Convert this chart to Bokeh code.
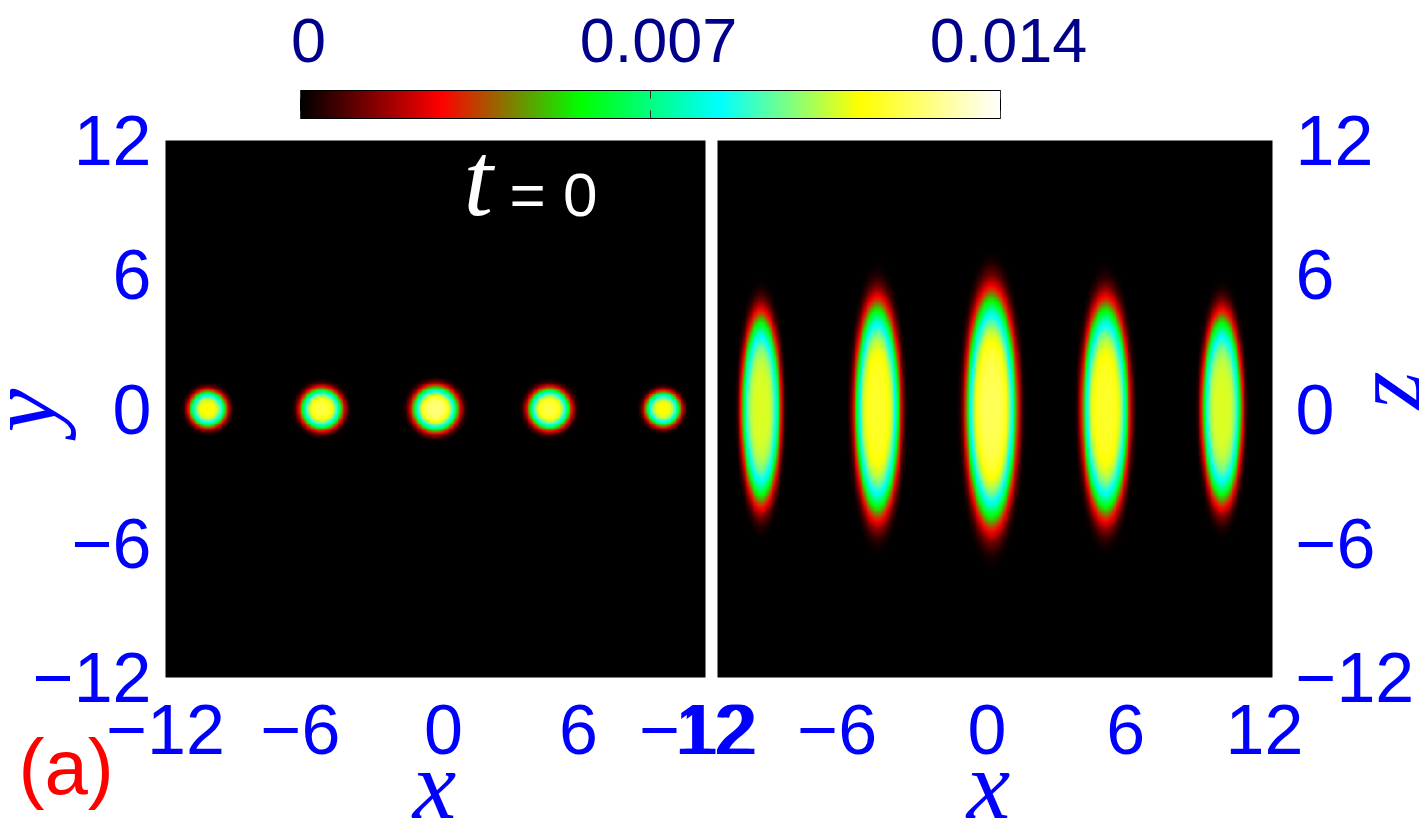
import numpy as np
from bokeh.plotting import figure
from bokeh.models import Range1d, LinearColorMapper, FixedTicker, LinearAxis, Label
from bokeh.embed import file_html
from bokeh.resources import INLINE

# ---------------- data ----------------
xy_blob_x = [-10.15, -5.08, 0.0, 5.08, 10.15]        # droplet centres, x-y plane
xy_peak = [0.0113, 0.0119, 0.0125, 0.0119, 0.0112]   # peak density, x-y plane
xy_wx = [0.82, 0.92, 1.00, 0.92, 0.78]
xy_wy = [0.82, 0.92, 1.00, 0.92, 0.78]
XY_Q = 2.0
xz_blob_x = [-10.15, -5.1, -0.15, 4.8, 9.85]         # droplet centres, x-z plane
xz_peak = [0.0108, 0.0116, 0.0121, 0.0116, 0.0108]   # peak density, x-z plane
xz_wx = [0.83, 0.96, 1.08, 0.99, 0.85]
xz_wz = [4.2, 4.7, 5.1, 4.7, 4.2]
XZ_Q = 2.5

cbar_ticks = [0.0, 0.007, 0.014]
cbar_labels = ["0", "0.007", "0.014"]
axis_ticks = [-12, -6, 0, 6, 12]
axis_labels = ["\u221212", "\u22126", "0", "6", "12"]
stops = [(0.0, (0, 0, 0)), (0.2, (255, 0, 0)), (0.4, (0, 255, 0)),
         (0.6, (0, 255, 255)), (0.8, (255, 255, 0)), (1.0, (255, 255, 255))]

VMIN, VMAX = 0.0, 0.014
BLUE = "#0000ff"
NAVY = "#00008b"
SANS = "Liberation Sans"
SERIF = "Liberation Serif"

# ---------------- palette ----------------
def build_palette(n=256):
    pos = [s[0] for s in stops]
    out = []
    for t in np.linspace(0, 1, n):
        rgb = [int(round(np.interp(t, pos, [s[1][k] for s in stops]))) for k in range(3)]
        out.append("#%02x%02x%02x" % tuple(rgb))
    return out

mapper = LinearColorMapper(palette=build_palette(), low=VMIN, high=VMAX)

# ---------------- density images ----------------
grid = np.linspace(-12, 12, 321)

def density(cx, peaks, wa, wb, q):
    X, Y = np.meshgrid(grid, grid)
    d = np.zeros_like(X)
    for c, P, a, b in zip(cx, peaks, wa, wb):
        rho2 = ((X - c) / a) ** 2 + (Y / b) ** 2
        d += P * np.exp(-rho2 ** q)
    return d.astype(np.float32)

img_xy = density(xy_blob_x, xy_peak, xy_wx, xy_wy, XY_Q)
img_xz = density(xz_blob_x, xz_peak, xz_wx, xz_wz, XZ_Q)

# ---------------- geometry (page pixels -> data units) ----------------
W, H = 1419, 839
PX = 540 / 24.0            # px per unit, left panel (x: 165..705 page)
PY = 537 / 24.0            # px per unit, vertical (y: 140..677 page)
RS = (555 / 24.0) / PX     # right panel (717..1272 page) scale vs left


def dx(px):
    return (px - 165) / PX - 12


def dy(py):
    return (408.5 - py) / PY


def xr(v):
    return dx(717) + (v + 12) * RS

CB_PX = (VMAX - VMIN) / 700.0   # colour bar: 300..1000 page

p = figure(width=W, height=H,
           x_range=Range1d(dx(0), dx(W)), y_range=Range1d(dy(H), dy(0)),
           output_backend="svg", toolbar_location=None, min_border=0,
           x_axis_location=None, y_axis_location=None)
p.extra_x_ranges = {"cbx": Range1d(VMIN - 300 * CB_PX, VMAX + (W - 1000) * CB_PX)}
p.grid.visible = False
p.outline_line_color = None
p.background_fill_color = "white"
p.border_fill_color = "white"

# panels
p.image(image=[img_xy], x=-12, y=-12, dw=24, dh=24, color_mapper=mapper)
p.image(image=[img_xz], x=xr(-12), y=-12, dw=24 * RS, dh=24, color_mapper=mapper)

# colour bar
grad = np.linspace(VMIN, VMAX, 512).astype(np.float32)[None, :]
p.image(image=[grad], x=VMIN, y=dy(118), dw=VMAX - VMIN, dh=dy(90) - dy(118),
        color_mapper=mapper, x_range_name="cbx")
p.quad(left=[VMIN], right=[VMAX], bottom=[dy(118)], top=[dy(90)], fill_color=None,
       line_color="black", line_width=1, x_range_name="cbx")
n = len(cbar_ticks)
p.segment(x0=cbar_ticks, x1=cbar_ticks, y0=[dy(90)] * n, y1=[dy(98)] * n,
          line_color="#303030", line_width=1, x_range_name="cbx")
p.segment(x0=cbar_ticks, x1=cbar_ticks, y0=[dy(118)] * n, y1=[dy(110)] * n,
          line_color="#303030", line_width=1, x_range_name="cbx")


def style_axis(ax, standoff, size="70px", color=BLUE):
    ax.major_label_text_font = SANS
    ax.major_label_text_font_size = size
    ax.major_label_text_color = color
    ax.major_label_standoff = standoff
    ax.major_tick_line_color = None
    ax.minor_tick_line_color = None
    ax.axis_line_color = None
    ax.major_tick_in = 0
    ax.major_tick_out = 0

# bottom axis: tick labels of both panels (gnuplot label nudges)
xt, xo = [], {}
for v, s in zip(axis_ticks, axis_labels):
    pl = round(v + (8 if v >= 0 else 0) / PX, 6)
    pr = round(xr(v) + (-8 if v >= 0 else -19) / PX, 6)
    xt += [pl, pr]
    xo[pl] = s
    xo[pr] = s
xa = LinearAxis(ticker=FixedTicker(ticks=sorted(xt)), major_label_overrides=xo,
                fixed_location=-12)
style_axis(xa, 27)
p.add_layout(xa, "below")

ya = LinearAxis(ticker=FixedTicker(ticks=axis_ticks),
                major_label_overrides=dict(zip(axis_ticks, axis_labels)), fixed_location=-12)
style_axis(ya, 14)
p.add_layout(ya, "left")

za = LinearAxis(ticker=FixedTicker(ticks=axis_ticks),
                major_label_overrides=dict(zip(axis_ticks, axis_labels)), fixed_location=xr(12))
style_axis(za, 23)
p.add_layout(za, "right")

ct = [round(v + 8 * CB_PX, 8) for v in cbar_ticks]
ca = LinearAxis(ticker=FixedTicker(ticks=ct), major_label_overrides=dict(zip(ct, cbar_labels)),
                x_range_name="cbx", fixed_location=dy(90))
style_axis(ca, 29, "63px", NAVY)
p.add_layout(ca, "above")

# axis titles and annotations (anchor = middle of the text box)
def lab(px, py, text, font, size, color, style="normal", align="left", angle=0.0):
    p.add_layout(Label(x=dx(px), y=dy(py), text=text, text_font=font,
                       text_font_size="%dpx" % size, text_color=color,
                       text_font_style=style, text_align=align,
                       text_baseline="middle", angle=angle))

lab(434, 784, "x", SERIF, 98, BLUE, "italic", "center")
lab(988, 784, "x", SERIF, 98, BLUE, "italic", "center")
lab(21, 410, "y", SERIF, 98, BLUE, "italic", "center", np.pi / 2)
lab(1386, 390, "z", SERIF, 98, BLUE, "italic", "center", np.pi / 2)
lab(463, 179, "t", SERIF, 106, "white", "italic", "left")
lab(509, 193.5, "= 0", SANS, 62, "white", "normal", "left")
lab(18, 766, "(a)", SANS, 78, "#ff0000", "normal", "left")

open("out.html", "w").write(file_html(p, INLINE))
